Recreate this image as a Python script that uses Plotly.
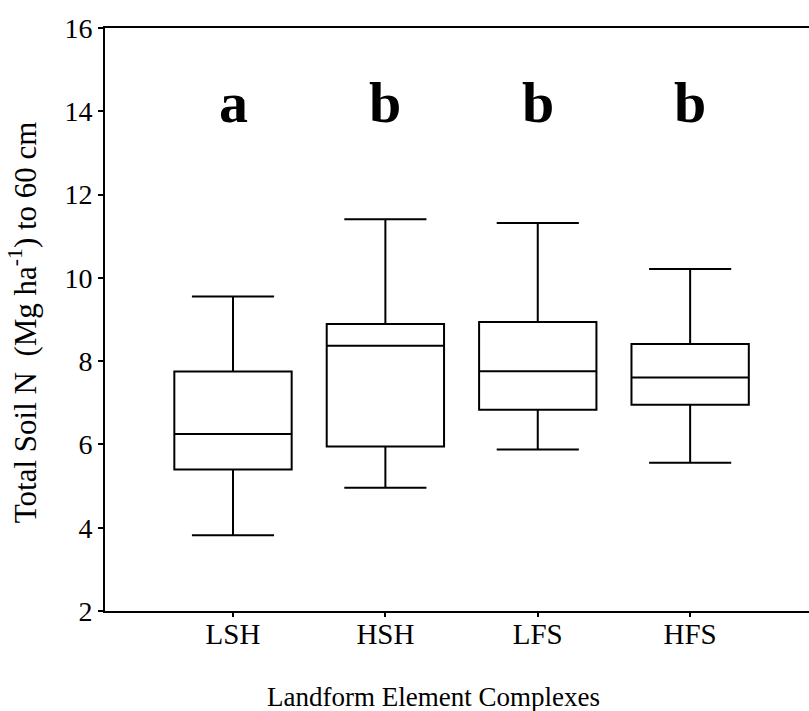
import plotly.graph_objects as go

# Landform element complexes and total soil N summary statistics (Mg ha-1, 0-60 cm)
categories = ["LSH", "HSH", "LFS", "HFS"]
lower_whisker = [3.82, 4.96, 5.88, 5.56]
q1 = [5.40, 5.95, 6.83, 6.95]
median = [6.25, 8.37, 7.76, 7.61]
q3 = [7.75, 8.89, 8.94, 8.41]
upper_whisker = [9.55, 11.41, 11.32, 10.21]
group_letters = ["a", "b", "b", "b"]
letter_y = 14.2
y_ticks = [2, 4, 6, 8, 10, 12, 14, 16]

SERIF = "Liberation Serif, Times New Roman, serif"

fig = go.Figure()
fig.add_trace(go.Box(
    x=categories,
    q1=q1,
    median=median,
    q3=q3,
    lowerfence=lower_whisker,
    upperfence=upper_whisker,
    boxpoints=False,
    fillcolor="white",
    line=dict(color="black", width=2),
    whiskerwidth=0.70,
    showlegend=False,
    hoverinfo="skip",
))

# significance letters above each box
for cat, letter in zip(categories, group_letters):
    fig.add_annotation(
        x=cat, y=letter_y, xref="x", yref="y",
        text=f"<b>{letter}</b>", showarrow=False,
        font=dict(family=SERIF, size=58, color="black"),
        yanchor="middle",
    )

fig.add_annotation(
    x=0.467, y=-0.148, xref="paper", yref="paper",
    text="Landform Element Complexes", showarrow=False,
    font=dict(family=SERIF, size=27, color="black"),
    yanchor="middle",
)
fig.add_annotation(
    x=-0.116, y=0.496, xref="paper", yref="paper",
    text="Total Soil N\u00a0\u00a0(Mg ha<sup>-1</sup>) to 60 cm", showarrow=False,
    textangle=-90,
    font=dict(family=SERIF, size=31, color="black"),
    xanchor="center", yanchor="middle",
)

fig.update_layout(
    width=809, height=711,
    margin=dict(l=105, r=0, t=28, b=100),
    paper_bgcolor="white", plot_bgcolor="white",
    boxgap=0.23, boxgroupgap=0,
    font=dict(family=SERIF, color="black"),
)
fig.update_xaxes(
    type="category",
    range=[-0.84, 3.78],
    showgrid=False, zeroline=False,
    showline=True, linecolor="black", linewidth=2, mirror=True,
    ticks="outside", ticklen=4, tickwidth=2, tickcolor="black",
    ticklabelstandoff=-8,
    tickfont=dict(family=SERIF, size=29, color="black"),
)
fig.update_yaxes(
    range=[2, 16],
    tickvals=y_ticks,
    showgrid=False, zeroline=False,
    showline=True, linecolor="black", linewidth=2,
    ticks="outside", ticklen=5, tickwidth=2, tickcolor="black",
    tickfont=dict(family=SERIF, size=28, color="black"),
)

fig.write_html("out.html")
